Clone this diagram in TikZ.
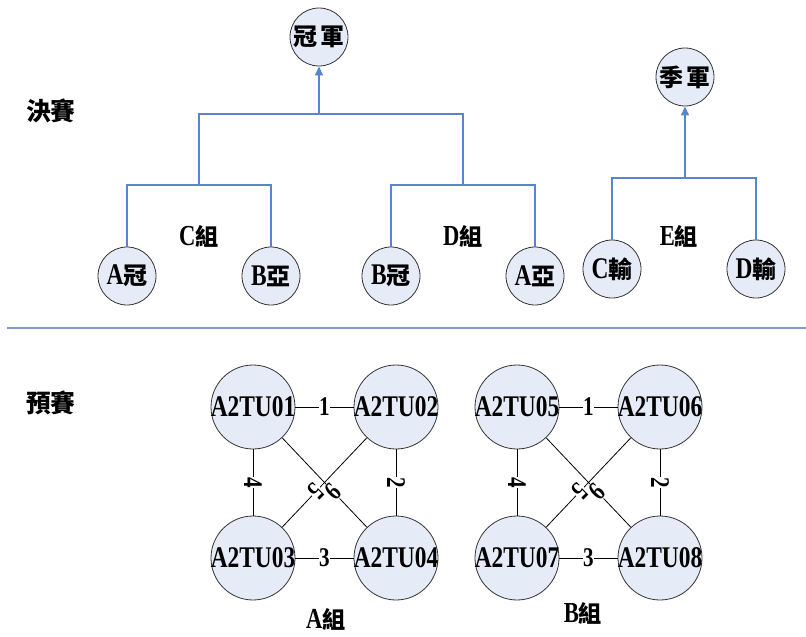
\documentclass[tikz,border=0pt]{standalone}
\usepackage{fontspec}
\setmainfont{Liberation Serif}[FakeStretch=0.78]
\newfontfamily\cjk{Noto Sans CJK TC}[Scale=0.8]
\usetikzlibrary{arrows.meta}
\definecolor{treeblue}{RGB}{88,134,204}
\definecolor{disc}{RGB}{230,236,247}
\definecolor{rule}{RGB}{127,155,203}
\newcommand{\zh}[1]{{\cjk\bfseries #1}}
\newcommand{\tu}[1]{\makebox[0pt]{A2TU#1}}
\tikzset{
  team/.style={circle,draw=black!80,fill=disc,line width=0.8pt,inner sep=0pt,minimum size=58pt,font=\fontsize{30}{30}\selectfont\bfseries},
  player/.style={team,minimum size=84pt},
  tree/.style={draw=treeblue,line width=1.3pt},
  win/.style={tree,-{Triangle[width=8pt,length=9pt]}},
  game/.style={draw=black,line width=0.8pt},
  num/.style={fill=white,inner sep=0.5pt,font=\fontsize{27}{27}\selectfont\bfseries},
  grp/.style={font=\fontsize{29}{29}\selectfont\bfseries}
}
\begin{document}
\begin{tikzpicture}[x=1pt,y=-1pt]
\useasboundingbox (0,0) rectangle (806,637);
\node[grp] (final) at (51,111) {\zh{\fontsize{31}{31}\selectfont 決賽}};
\node[grp] (prelim) at (51,403) {\zh{\fontsize{31}{31}\selectfont 預賽}};
\node[team] (champ) at (319,37) {\zh{冠\,軍}};
\node[team] (third) at (685,77) {\zh{季\,軍}};
\node[team] (ac) at (127,276) {A\zh{冠}};
\node[team] (bs) at (271,276) {B\zh{亞}};
\node[team] (bc) at (391,276) {B\zh{冠}};
\node[team] (as) at (535,276) {A\zh{亞}};
\node[team] (cl) at (612,269) {C\zh{輸}};
\node[team] (dl) at (756,269) {D\zh{輸}};
\node[grp] (cgrp) at (199,236) {C\zh{組}};
\node[grp] (dgrp) at (463,236) {D\zh{組}};
\node[grp] (egrp) at (679,236) {E\zh{組}};
\coordinate (fj) at (319,114);
\coordinate (cj) at (199,185);
\coordinate (dj) at (463,185);
\coordinate (ej) at (685,178);
\draw[tree] (ac) |- (cj) -| (bs);
\draw[tree] (bc) |- (dj) -| (as);
\draw[tree] (cj) |- (fj) -| (dj);
\draw[win] (fj) -- (champ);
\draw[tree] (cl) |- (ej) -| (dl);
\draw[win] (ej) -- (third);
\coordinate (sl) at (7,328);
\coordinate (sr) at (806,328);
\draw[rule,line width=1.5pt] (sl) -- (sr);
\foreach \g/\x/\a/\b/\c/\d/\lx/\ly in {A/253/01/02/03/04/326/619, B/517/05/06/07/08/583/613}{
  \node[player] (\g1) at (\x,407) {\tu{\a}};
  \node[player] (\g2) at (\x+143,407) {\tu{\b}};
  \node[player] (\g3) at (\x,558) {\tu{\c}};
  \node[player] (\g4) at (\x+143,558) {\tu{\d}};
  \node[grp] (\g grp) at (\lx,\ly) {\g\zh{組}};
  \draw[game] (\g1) -- node[num]{1} (\g2);
  \draw[game] (\g2) -- node[num,rotate=-90]{2} (\g4);
  \draw[game] (\g3) -- node[num]{3} (\g4);
  \draw[game] (\g1) -- node[num,rotate=-90]{4} (\g3);
  \draw[game] (\g2) -- node[num,pos=0.6,rotate=-135]{5} (\g3);
  \draw[game] (\g1) -- node[num,pos=0.6,rotate=45]{6} (\g4);
}
\end{tikzpicture}
\end{document}
